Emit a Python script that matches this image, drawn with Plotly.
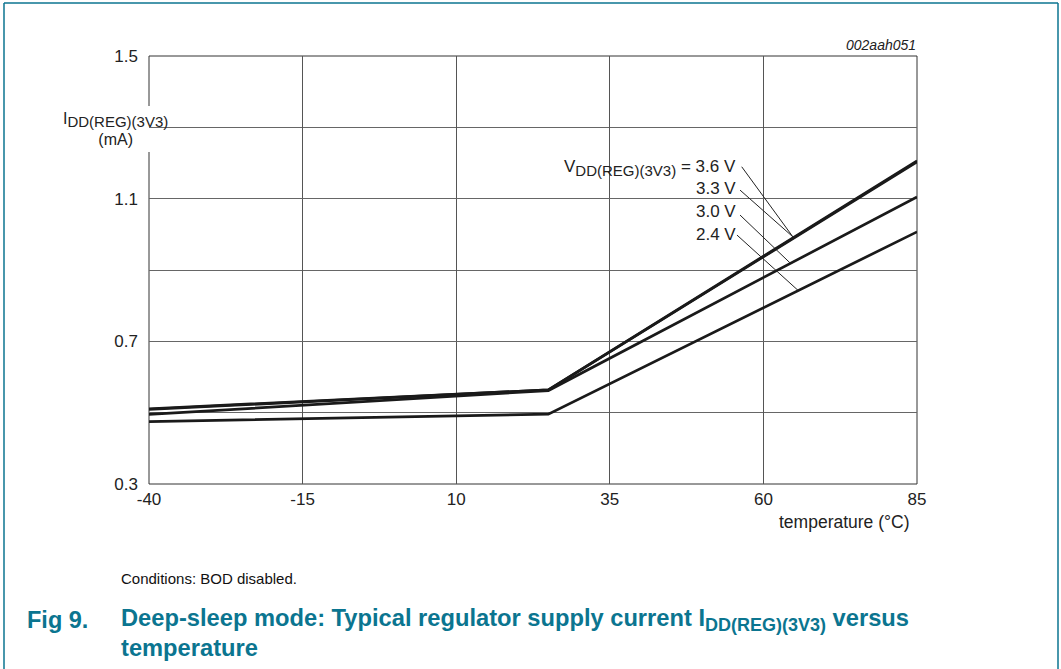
import plotly.graph_objects as go

# ---- data ----
temperature = [-40, 25, 85]
i_36 = [0.511, 0.564, 1.206]
i_33 = [0.509, 0.564, 1.203]
i_30 = [0.495, 0.562, 1.105]
i_24 = [0.475, 0.496, 1.007]
series_names = ["3.6 V", "3.3 V", "3.0 V", "2.4 V"]
x_ticks = [-40, -15, 10, 35, 60, 85]
x_ticktext = ["-40", "-15", "10", "35", "60", "85"]
y_ticks = [0.3, 0.7, 1.1, 1.5]
y_ticktext = ["0.3", "0.7", "1.1", "1.5"]
y_minor_grid = [0.5, 0.9, 1.3]

FONT = "Arial, Liberation Sans, sans-serif"
TEAL = "#0b7590"
LINE = "#1a1a1a"
TXT = "#222222"

fig = go.Figure()
for name, ys in zip(series_names, [i_36, i_33, i_30, i_24]):
    fig.add_trace(go.Scatter(x=temperature, y=ys, mode="lines", name=name,
                             line=dict(color=LINE, width=2.7), showlegend=False,
                             hoverinfo="skip"))

L, R, T, B = 149, 144, 56, 185
W, H = 1061, 669
pw, ph = W - L - R, H - T - B


def px(x):
    return (x - L) / pw


def py(y):
    return (H - B - y) / ph


shapes = []
# plot frame
shapes.append(dict(type="rect", xref="paper", yref="paper", x0=0, x1=1, y0=0, y1=1,
                   line=dict(color="#333333", width=1), layer="between"))
# white boxes behind labels
shapes.append(dict(type="rect", xref="paper", yref="paper", x0=px(40), x1=px(183),
                   y0=py(152), y1=py(106), fillcolor="white", line=dict(width=0), layer="between"))
shapes.append(dict(type="rect", xref="paper", yref="paper", x0=px(543), x1=px(750),
                   y0=py(247), y1=py(152), fillcolor="white", line=dict(width=0), layer="between"))
# leader lines
leaders = [((56.47, 1.1895), (64.8, 0.993)),
           ((56.2, 1.124), (64.8, 0.993)),
           ((56.2, 1.054), (64.33, 0.920)),
           ((55.7, 0.998), (65.63, 0.843))]
for (x0, y0), (x1, y1) in leaders:
    shapes.append(dict(type="line", xref="x", yref="y", x0=x0, y0=y0, x1=x1, y1=y1,
                       line=dict(color="#222222", width=1), layer="above"))
# outer teal frame
for x0, y0, x1, y1 in [(4, 3, 4, 700), (4, 3, 1058, 3), (1058, 3, 1058, 700)]:
    shapes.append(dict(type="line", xref="paper", yref="paper", x0=px(x0), x1=px(x1),
                       y0=py(y0), y1=py(y1), line=dict(color=TEAL, width=1.5), layer="above"))

SUB = '<sub><span style="font-size:15px">DD(REG)(3V3)</span></sub>'
ann = []
ann.append(dict(text="I" + SUB + "<br>(mA)", xref="paper", yref="paper",
                x=px(115), y=py(129), xanchor="center", yanchor="middle",
                showarrow=False, align="center",
                font=dict(family=FONT, size=16, color=TXT)))
ann.append(dict(text="V" + SUB + " = 3.6 V", xref="paper", yref="paper",
                x=px(738), y=py(168), xanchor="right", yanchor="middle", showarrow=False,
                font=dict(family=FONT, size=17, color=TXT)))
for lbl, yy in zip(series_names[1:], [188, 211, 234]):
    ann.append(dict(text=lbl, xref="paper", yref="paper", x=px(738), y=py(yy),
                    xanchor="right", yanchor="middle", showarrow=False,
                    font=dict(family=FONT, size=17, color=TXT)))
ann.append(dict(text="temperature (°C)", xref="paper", yref="paper", x=px(912), y=py(522),
                xanchor="right", yanchor="middle", showarrow=False,
                font=dict(family=FONT, size=17.5, color=TXT)))
ann.append(dict(text="<i>002aah051</i>", xref="paper", yref="paper", x=px(918), y=py(45),
                xanchor="right", yanchor="middle", showarrow=False,
                font=dict(family=FONT, size=14, color=TXT)))
ann.append(dict(text="Conditions: BOD disabled.", xref="paper", yref="paper", x=px(119), y=py(578),
                xanchor="left", yanchor="middle", showarrow=False,
                font=dict(family=FONT, size=15, color="#111")))
ann.append(dict(text="<b>Fig 9.</b>", xref="paper", yref="paper", x=px(25), y=py(620),
                xanchor="left", yanchor="middle", showarrow=False,
                font=dict(family=FONT, size=23.5, color=TEAL)))
ann.append(dict(text='<b>Deep-sleep mode: Typical regulator supply current I<sub><span style="font-size:18px">DD(REG)(3V3)</span></sub> versus</b>',
                xref="paper", yref="paper", x=px(119), y=py(620),
                xanchor="left", yanchor="middle", showarrow=False,
                font=dict(family=FONT, size=23.7, color=TEAL)))
ann.append(dict(text="<b>temperature</b>", xref="paper", yref="paper", x=px(119), y=py(648),
                xanchor="left", yanchor="middle", showarrow=False,
                font=dict(family=FONT, size=23.7, color=TEAL)))

fig.update_layout(
    width=W, height=H,
    margin=dict(l=L, r=R, t=T, b=B, autoexpand=False),
    paper_bgcolor="white", plot_bgcolor="white",
    font=dict(family=FONT, size=17, color=TXT),
    shapes=shapes, annotations=ann,
    xaxis=dict(range=[-40, 85], tickvals=x_ticks, ticktext=x_ticktext, showgrid=True,
               gridcolor="#555555", gridwidth=1, zeroline=False, showline=False, ticks="",
               ticklabelstandoff=3, tickfont=dict(family=FONT, size=17, color=TXT)),
    yaxis=dict(range=[0.3, 1.5], tickvals=y_ticks, ticktext=y_ticktext, showgrid=True,
               gridcolor="#666666", gridwidth=1, zeroline=False, showline=False, ticks="",
               minor=dict(tickvals=y_minor_grid, showgrid=True, gridcolor="#666666",
                          gridwidth=1, ticks=""),
               ticklabelstandoff=10, tickfont=dict(family=FONT, size=17, color=TXT)),
)

fig.write_html("out.html", config={"displayModeBar": False},
               post_script="document.body.style.margin='0';document.body.style.padding='0';")
